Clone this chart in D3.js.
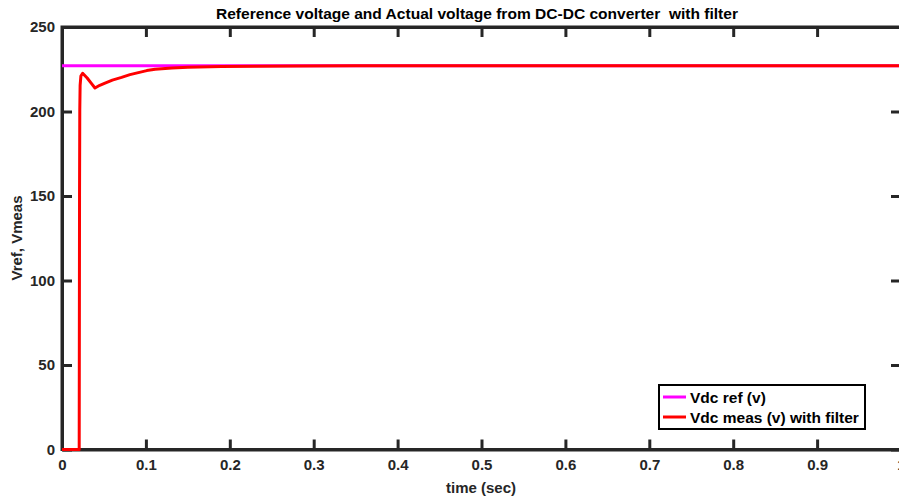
<!DOCTYPE html>
<html>
<head>
<meta charset="utf-8">
<script src="https://cdn.jsdelivr.net/npm/d3@7"></script>
<style>
html,body{margin:0;padding:0;background:#fff;overflow:hidden;}
svg{display:block;font-family:Arial,"Liberation Sans",sans-serif;}
</style>
</head>
<body>
<svg id="chart" width="899" height="501"></svg>
<script>
const xTicks = [0,0.1,0.2,0.3,0.4,0.5,0.6,0.7,0.8,0.9,1];
const xTickLabels = ["0","0.1","0.2","0.3","0.4","0.5","0.6","0.7","0.8","0.9","1"];
const yTicks = [0,50,100,150,200,250];
const refTime = [0, 1];
const refValue = [227, 227];
const measTime = [0, 0.0205, 0.0209, 0.0212, 0.0216, 0.0225, 0.0246, 0.030, 0.035, 0.0393, 0.045, 0.0513, 0.060, 0.071, 0.081, 0.091, 0.101, 0.111, 0.131, 0.150, 0.190, 0.230, 0.280, 0.350, 1.0];
const measValue = [0, 0, 150, 201, 215.5, 221, 222.6, 219.8, 216.6, 213.9, 215.5, 216.8, 218.6, 220.2, 221.8, 223.0, 224.2, 225.0, 225.7, 226.2, 226.6, 226.8, 226.95, 227, 227];
const seriesNames = ["Vdc ref (v)", "Vdc meas (v) with filter"];
const seriesColors = ["#ff00ff", "#ff0000"];

const svg = d3.select("#chart");
const L = 62, R = 901, T = 27, B = 449.5;
const x = d3.scaleLinear().domain([0,1]).range([L,R]);
const y = d3.scaleLinear().domain([0,250]).range([B,T]);
const axisColor = "#262626";

// title
svg.append("text").attr("x", 477).attr("y", 19).attr("text-anchor","middle")
  .attr("font-size", 14).attr("font-weight","bold").attr("fill","#000")
  .attr("xml:space","preserve")
  .attr("textLength", 522).attr("lengthAdjust","spacingAndGlyphs")
  .text("Reference voltage and Actual voltage from DC-DC converter  with filter");

// axes with ticks inside
function styleAxis(g){
  g.selectAll("path.domain").attr("stroke", axisColor).attr("stroke-width", 3);
  g.selectAll(".tick line").attr("stroke", axisColor).attr("stroke-width", 3);
  g.selectAll(".tick text").attr("fill","#262626").attr("font-size",15).attr("font-weight","bold").attr("font-family","Arial, 'Liberation Sans', sans-serif");
}
const gxB = svg.append("g").attr("transform",`translate(0,${B})`)
  .call(d3.axisBottom(x).tickValues(xTicks).tickFormat((d,i)=>xTickLabels[i]).tickSizeInner(-10).tickSizeOuter(0).tickPadding(10));
styleAxis(gxB);
const gxT = svg.append("g").attr("transform",`translate(0,${T})`)
  .call(d3.axisTop(x).tickValues(xTicks).tickFormat("").tickSizeInner(-10).tickSizeOuter(0));
styleAxis(gxT);
const gyL = svg.append("g").attr("transform",`translate(${L},0)`)
  .call(d3.axisLeft(y).tickValues(yTicks).tickSizeInner(-10).tickSizeOuter(0).tickPadding(7));
styleAxis(gyL);
const gyR = svg.append("g").attr("transform",`translate(${R},0)`)
  .call(d3.axisRight(y).tickValues(yTicks).tickFormat("").tickSizeInner(-10).tickSizeOuter(0));
styleAxis(gyR);
// square corners
svg.append("rect").attr("x",L).attr("y",T).attr("width",R-L).attr("height",B-T)
  .attr("fill","none").attr("stroke",axisColor).attr("stroke-width",3);

// axis labels
svg.append("text").attr("x", 481).attr("y", 493).attr("text-anchor","middle")
  .attr("font-size",15).attr("font-weight","bold").attr("fill","#262626").text("time (sec)");
svg.append("text").attr("transform","translate(22,238) rotate(-90)").attr("text-anchor","middle")
  .attr("font-size",15).attr("font-weight","bold").attr("fill","#262626").text("Vref, Vmeas");

// lines
const line = d3.line().x(d=>x(d[0])).y(d=>y(d[1]));
svg.append("path").datum(refTime.map((t,i)=>[t,refValue[i]]))
  .attr("d", line).attr("fill","none").attr("stroke",seriesColors[0]).attr("stroke-width",3);
svg.append("path").datum(measTime.map((t,i)=>[t,measValue[i]]))
  .attr("d", line).attr("fill","none").attr("stroke",seriesColors[1]).attr("stroke-width",3).attr("stroke-linejoin","round");

// legend
const lg = svg.append("g");
lg.append("rect").attr("x",659).attr("y",385).attr("width",206).attr("height",44)
  .attr("fill","#fff").attr("stroke","#000").attr("stroke-width",2);
seriesNames.forEach((n,i)=>{
  const yy = 397 + i*20;
  lg.append("line").attr("x1",663).attr("x2",686).attr("y1",yy).attr("y2",yy)
    .attr("stroke",seriesColors[i]).attr("stroke-width",3);
  lg.append("text").attr("x",690).attr("y",yy+5.5).attr("font-size",15.5).attr("font-weight","bold")
    .attr("fill","#000").text(n);
});
</script>
</body>
</html>
